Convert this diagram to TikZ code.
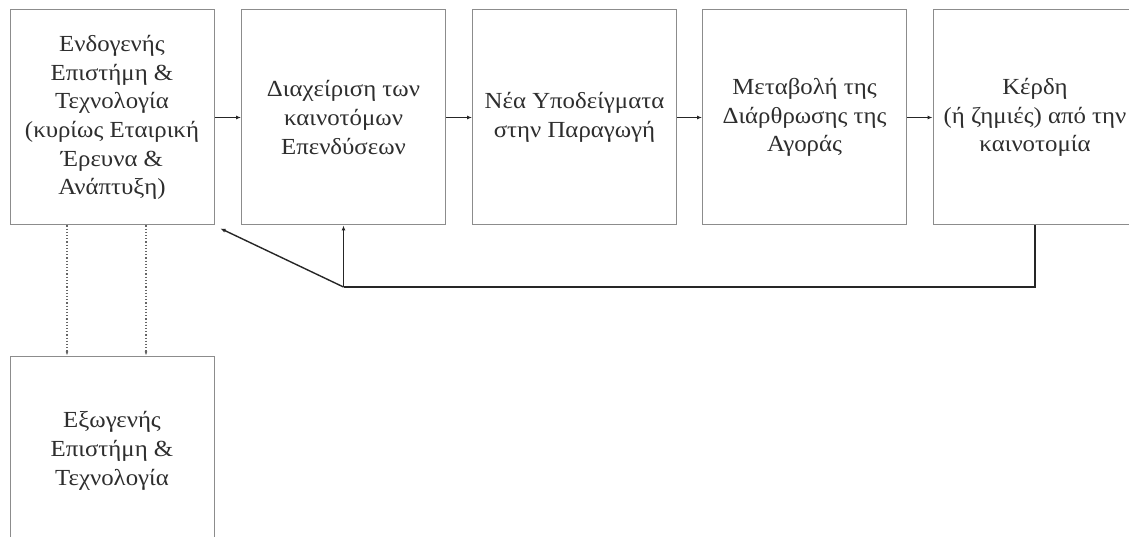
\documentclass[tikz,border=0pt]{standalone}
\usepackage{fontspec}
\setmainfont{Liberation Serif}[FakeStretch=1.08]
\usetikzlibrary{arrows.meta,calc}
\definecolor{boxline}{gray}{0.55}
\definecolor{txt}{gray}{0.18}
\begin{document}
\begin{tikzpicture}[x=1pt,y=-1pt,
  box/.style={draw=boxline,line width=1pt,minimum width=204pt,minimum height=215pt,
    inner sep=0pt,align=center,text=txt,font=\fontsize{23}{28.7}\selectfont},
  flow/.style={draw=black!85,line width=1.4pt,-{Latex[length=5pt,width=4pt]}},
  dots/.style={draw=black!60,line width=1.2pt,dotted,-{Latex[length=4pt,width=3pt]}}]
\useasboundingbox (0,0) rectangle (1129,537);
\fill[white] (0,0) rectangle (1129,537);

\node[box] (b1) at (112,117.5) {Ενδογενής\\Επιστήμη \&\\Τεχνολογία\\(κυρίως Εταιρική\\Έρευνα \&\\Ανάπτυξη)};
\node[box] (b2) at (343.5,117.5) {Διαχείριση των\\καινοτόμων\\Επενδύσεων};
\node[box] (b3) at (574.5,117.5) {Νέα Υποδείγματα\\στην Παραγωγή};
\node[box] (b4) at (804.5,117.5) {Μεταβολή της\\Διάρθρωσης της\\Αγοράς};
\node[box] (b5) at (1035,117.5) {Κέρδη\\(ή ζημιές) από την\\καινοτομία};
\node[box,minimum height=190pt] (b6) at (112,451) {Εξωγενής\\Επιστήμη \&\\Τεχνολογία};

% main chain
\draw[flow] (b1.east |- 0,117.5) -- (b2.west |- 0,117.5);
\draw[flow] (b2.east |- 0,117.5) -- (b3.west |- 0,117.5);
\draw[flow] (b3.east |- 0,117.5) -- (b4.west |- 0,117.5);
\draw[flow] (b4.east |- 0,117.5) -- (b5.west |- 0,117.5);

% feedback loop
\coordinate (j) at (343.5,287);
\coordinate (t1) at ($(b1.south east)+(6,3)$);
\draw[draw=black!85,line width=1.4pt] (b5.south) |- (j);
\draw[flow] (j) -- (b2.south);
\draw[flow] (j) -- (t1);

% external science links
\draw[dots] (b1.south -| 67,0) -- (b6.north -| 67,0);
\draw[dots] (b1.south -| 146,0) -- (b6.north -| 146,0);
\end{tikzpicture}
\end{document}
